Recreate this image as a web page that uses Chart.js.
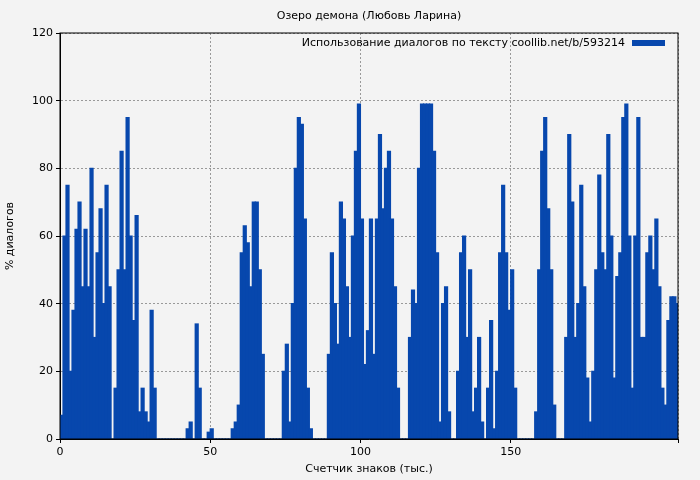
<!DOCTYPE html>
<html><head><meta charset="utf-8">
<script src="https://cdn.jsdelivr.net/npm/chart.js@4"></script>
<style>body{margin:0;background:#f3f3f3}#w{width:700px;height:480px}</style>
</head><body><div id="w"><canvas id="c"></canvas></div>
<script>
const title = "Озеро демона (Любовь Ларина)";
const seriesLabel = "Использование диалогов по тексту coollib.net/b/593214";
const xTitle = "Счетчик знаков (тыс.)";
const yTitle = "% диалогов";
const values = [
7,60,75,20,38,62,70,45,62,45,
80,30,55,68,40,75,45,0,15,50,
85,50,95,60,35,66,8,15,8,5,
38,15,0,0,0,0,0,0,0,0,
0,0,3,5,0,34,15,0,0,2,
3,0,0,0,0,0,0,3,5,10,
55,63,58,45,70,70,50,25,0,0,
0,0,0,0,20,28,5,40,80,95,
93,65,15,3,0,0,0,0,0,25,
55,40,28,70,65,45,30,60,85,99,
65,22,32,65,25,65,90,68,80,85,
65,45,15,0,0,0,30,44,40,80,
99,99,99,99,85,55,5,40,45,8,
0,0,20,55,60,30,50,8,15,30,
5,0,15,35,3,20,55,75,55,38,
50,15,0,0,0,0,0,0,8,50,
85,95,68,50,10,0,0,0,30,90,
70,30,40,75,45,18,5,20,50,78,
55,50,90,60,18,48,55,95,99,60,
15,60,95,30,30,55,60,50,65,45,
15,10,35,42,42,40];
const points = values.map((v,i)=>({x:i+0.5,y:v}));
const color = '#0747ad';
const font = "'DejaVu Sans', sans-serif";
const deco = {
  id:'deco',
  afterDraw(ch){
    const c=ch.ctx, a=ch.chartArea;
    c.save();
    c.fillStyle='#000'; c.font="11px "+font; c.textAlign='center'; c.textBaseline='middle';
    c.fillText(title,(a.left+a.right)/2,16);
    c.textAlign='right';
    c.fillText(seriesLabel,625,43);
    c.fillStyle=color; c.fillRect(632,40,33,6);
    c.restore();
  }
};
new Chart(document.getElementById('c'),{
  type:'bar',
  data:{datasets:[{data:points,backgroundColor:color,borderWidth:0,barPercentage:1,categoryPercentage:1,inflateAmount:0.6,grouped:false}]},
  options:{
    responsive:true,maintainAspectRatio:false,animation:false,
    layout:{padding:{top:33,right:22,left:0,bottom:0}},
    plugins:{legend:{display:false},tooltip:{enabled:false}},
    scales:{
      x:{type:'linear',min:0,max:205.7,offset:false,bounds:'ticks',
        ticks:{stepSize:50,color:'#000',font:{family:font,size:11},maxRotation:0,callback:v=>v%50===0?v:''},
        grid:{color:'#999',tickColor:'#000',tickLength:4,offset:false},
        border:{color:'#000',dash:[2,2]},
        title:{display:true,text:xTitle,color:'#000',font:{family:font,size:11},padding:{top:4}},
        afterFit(s){s.height=41;}},
      y:{min:0,max:120,
        ticks:{stepSize:20,color:'#000',font:{family:font,size:11}},
        grid:{color:'#999',tickColor:'#000',tickLength:4},
        border:{color:'#000',dash:[2,2]},
        title:{display:true,text:yTitle,color:'#000',font:{family:font,size:11}},
        afterFit(s){s.width=60;}}
    }
  },
  plugins:[deco,{id:'frame',afterDatasetsDraw(ch){const c=ch.ctx,a=ch.chartArea;c.save();c.strokeStyle='#000';c.lineWidth=1;c.strokeRect(a.left,a.top,a.right-a.left,a.bottom-a.top);c.restore();}}]
});
</script></body></html>
